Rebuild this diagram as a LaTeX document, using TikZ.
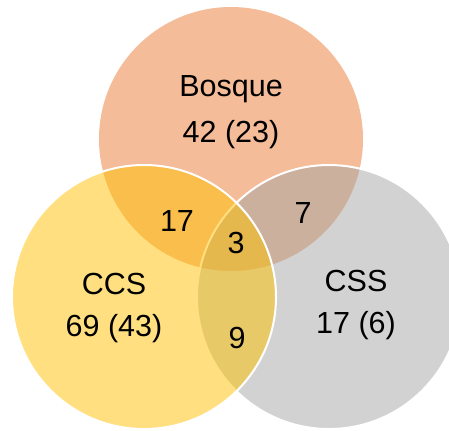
\documentclass[tikz,border=0pt]{standalone}
\usepackage{fontspec}
\setmainfont{Liberation Sans}
\definecolor{corange}{HTML}{F4BC98}
\definecolor{cgray}{HTML}{A5A5A5}
\definecolor{cyellow}{HTML}{FFC000}
\begin{document}
\begin{tikzpicture}[x=1bp,y=-1bp,
  setcirc/.style={circle,inner sep=0pt,minimum size=264bp},
  lbl/.style={inner sep=0pt,font=\fontsize{30.5bp}{36bp}\selectfont,text=black,align=center}]
\useasboundingbox (0,0) rectangle (449,430);
\clip (0,0) rectangle (449,430);
\node[setcirc,fill=corange] (bosque) at (231,139) {};
\node[setcirc,fill=cgray,fill opacity=0.5,draw=white,draw opacity=1,line width=2bp] (css) at (329,297) {};
\node[setcirc,fill=cyellow,fill opacity=0.5,draw=white,draw opacity=1,line width=2bp] (ccs) at (144,297) {};
\node[lbl] (tb) at (231,89) {Bosque};
\node[lbl] (nb) at (231,135) {42 (23)};
\node[lbl] (n17) at (177,221) {17};
\node[lbl] (n7) at (303,213) {7};
\node[lbl] (n3) at (236,243) {3};
\node[lbl] (tccs) at (114,284) {CCS};
\node[lbl] (nccs) at (114,329) {69 (43)};
\node[lbl] (n9) at (237,338) {9};
\node[lbl] (tcss) at (356,281) {CSS};
\node[lbl] (ncss) at (356,326) {17 (6)};
\end{tikzpicture}
\end{document}
